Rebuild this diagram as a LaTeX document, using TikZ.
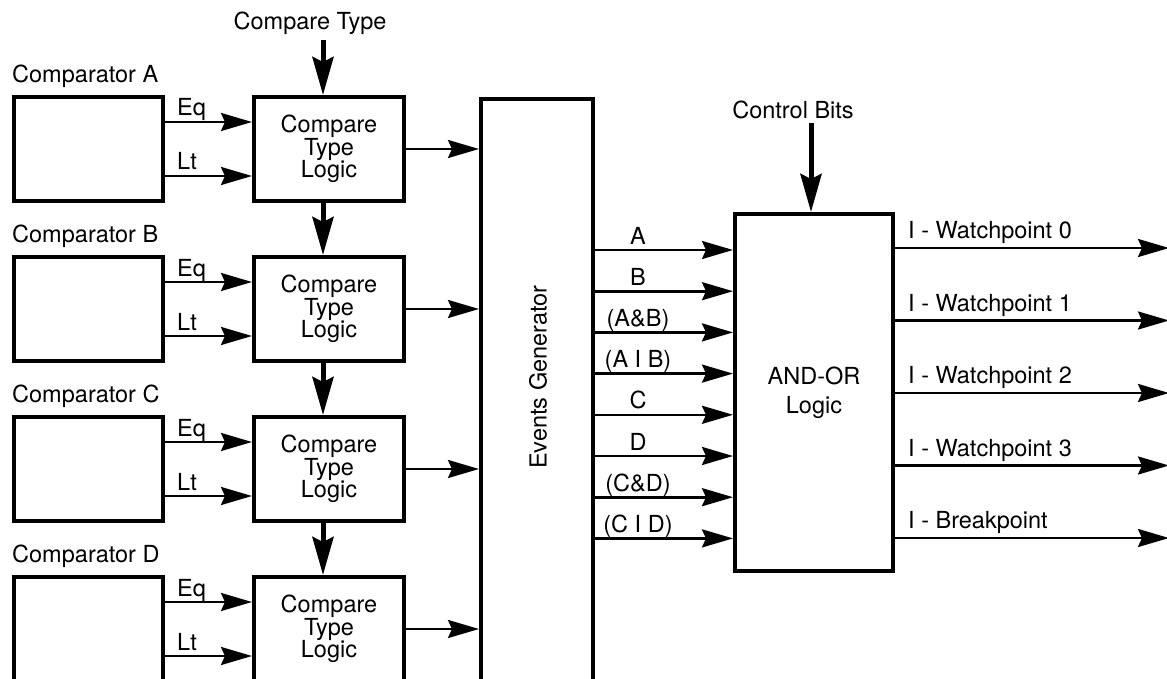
\documentclass[tikz,border=0pt]{standalone}
\usepackage{fontspec}
\setmainfont{TeX Gyre Heros}
\usetikzlibrary{arrows.meta}
\begin{document}
\begin{tikzpicture}[x=1pt,y=-1pt,
  box/.style={draw, line width=4pt, inner sep=0pt},
  cmpbox/.style={box, minimum width=149pt, minimum height=104pt},
  ctlbox/.style={box, minimum width=150pt, minimum height=104pt, align=center, font=\fontsize{23.5}{22.5}\selectfont},
  thinarr/.style={line width=2.6pt, -{Stealth[length=31pt,width=18pt,inset=4pt]}},
  thickarr/.style={line width=5pt, -{Stealth[length=38pt,width=21pt,inset=5pt]}},
  txt/.style={inner sep=0pt, font=\fontsize{23.5}{22.5}\selectfont}
]
\useasboundingbox (0,0) rectangle (1167,679);
\clip (0,0) rectangle (1167,679);

% comparators and compare type logic
\foreach \r [count=\i from 0] in {A,B,C,D} {
  \node[txt, anchor=west] (lab\r) at (12,{76+160*\i}) {Comparator \r};
  \node[cmpbox] (cmp\r) at (88.5,{149+160*\i}) {};
  \node[ctlbox] (ctl\r) at (329,{149+160*\i}) {Compare\\Type\\Logic};
  \draw[thinarr] ([yshift=27pt]cmp\r.east) -- ([yshift=27pt]ctl\r.west);
  \draw[thinarr] ([yshift=-27pt]cmp\r.east) -- ([yshift=-27pt]ctl\r.west);
  \node[txt, anchor=base west] (eq\r) at ([xshift=12pt,yshift=33pt]cmp\r.east) {Eq};
  \node[txt, anchor=base west] (lt\r) at ([xshift=12pt,yshift=-21pt]cmp\r.east) {Lt};
}

% events generator
\node[box, minimum width=112pt, minimum height=640pt, anchor=north] (eg) at (537,97) {};
\node[txt, rotate=90] (egt) at (538,377) {Events Generator};

\foreach \r in {A,B,C,D} {
  \draw[thinarr] (ctl\r.east) -- (ctl\r.east -| eg.west);
}

% compare type input
\node[txt] (ctt) at (310,23) {Compare Type};
\coordinate (ctin) at (323,40);
\draw[thickarr] (ctin) -- (ctin |- ctlA.north);
\foreach \a/\b in {A/B,B/C,C/D} {
  \draw[thickarr] ([xshift=-6pt]ctl\a.south) -- ([xshift=-6pt]ctl\b.north);
}

% AND-OR logic
\node[box, minimum width=158pt, minimum height=357pt, align=center,
      font=\fontsize{23.5}{29}\selectfont] (ao) at (814,392.5) {AND-OR\\Logic};
\node[txt] (cbt) at (793,110) {Control Bits};
\coordinate (cbin) at (811,123);
\draw[thickarr] (cbin) -- (cbin |- ao.north);

% events
\foreach \lab [count=\k from 0] in {A,B,(A\&B),(A I B),C,D,(C\&D),(C I D)} {
  \path ([yshift={-153pt-41.2pt*\k}]eg.north east) coordinate (e\k);
  \draw[thinarr] (e\k) -- (e\k -| ao.west);
  \node[txt, anchor=base] (el\k) at ([xshift=43pt,yshift=6pt]e\k) {\lab};
}

% outputs
\coordinate (redge) at (1169,0);
\foreach \lab [count=\k from 0] in {I - Watchpoint 0,I - Watchpoint 1,I - Watchpoint 2,I - Watchpoint 3,I - Breakpoint} {
  \path ([yshift={-36pt-72.5pt*\k}]ao.north east) coordinate (o\k);
  \draw[thinarr] (o\k) -- (o\k -| redge);
  \node[txt, anchor=base west] (ol\k) at ([xshift=13pt,yshift=9.5pt]o\k) {\lab};
}
\end{tikzpicture}
\end{document}
